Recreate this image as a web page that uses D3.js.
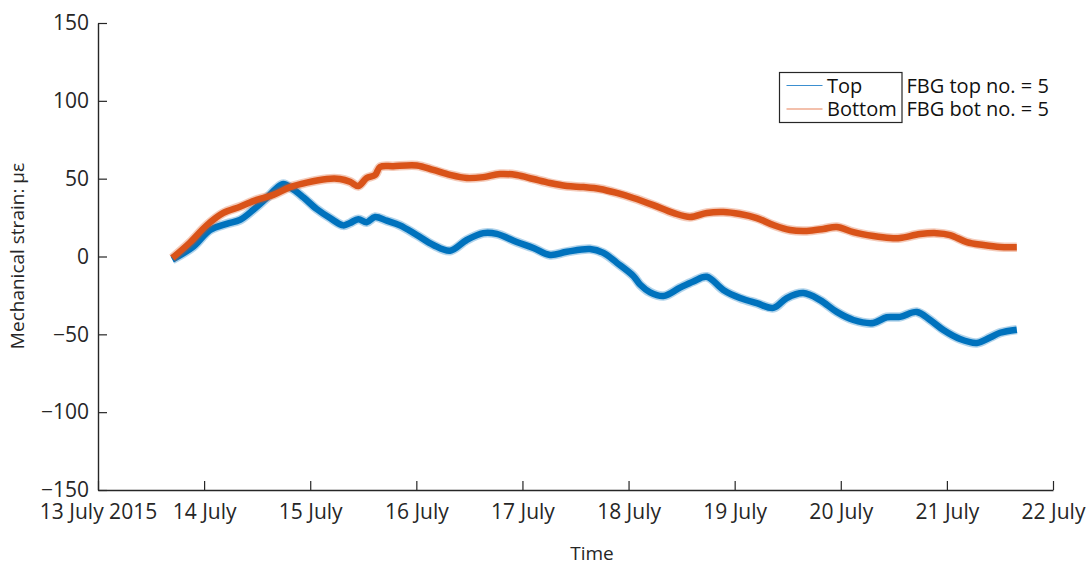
<!DOCTYPE html>
<html>
<head>
<meta charset="utf-8">
<script src="https://cdn.jsdelivr.net/npm/d3@7"></script>
<style>
  html, body { margin: 0; padding: 0; background: #fff; }
  svg { display: block; font-family: "Open Sans", "Noto Sans", sans-serif; }
</style>
</head>
<body>
<svg id="chart" width="1088" height="565"></svg>
<script>
// ---- data (time in days since 13 July 2015 00:00) ----
const topDay = [0.700,0.898,1.056,1.213,1.338,1.464,1.590,1.684,1.747,1.841,1.935,2.061,2.187,2.312,2.375,2.453,2.532,2.611,2.721,2.846,3.004,3.160,3.318,3.475,3.631,3.758,3.946,4.103,4.260,4.418,4.637,4.763,4.889,5.045,5.108,5.203,5.328,5.485,5.611,5.737,5.893,6.051,6.208,6.365,6.491,6.647,6.805,6.962,7.119,7.307,7.433,7.559,7.716,7.842,7.967,8.124,8.282,8.407,8.501,8.659];
const topStrain = [-2,6.3,17,21,23.5,30,37.6,44,46.6,43,38,30.5,24.7,20,21.5,24,22,25.4,23,20,13.8,7.4,3.7,10.6,15,14.5,9.3,5.5,1,3,4.8,2.3,-4,-12.5,-18,-23,-25.4,-20,-16,-13,-21.5,-26.7,-30,-33,-26.7,-23.5,-28,-35.6,-40.8,-42.7,-39,-38.8,-35.6,-40.8,-47.2,-53,-55.5,-52,-49,-47];
const botDay = [0.700,0.867,1.024,1.181,1.338,1.496,1.652,1.810,1.967,2.156,2.281,2.375,2.453,2.532,2.611,2.658,2.783,3.004,3.160,3.318,3.475,3.631,3.789,3.946,4.103,4.260,4.418,4.574,4.731,4.889,5.045,5.234,5.422,5.579,5.737,5.893,6.051,6.208,6.365,6.522,6.680,6.836,6.962,7.119,7.307,7.465,7.559,7.747,7.905,8.030,8.187,8.344,8.501,8.659];
const botStrain = [-1,9,20,28,32,36.4,39.6,44.6,47.5,49.8,49.8,48,45.3,50.4,52.4,57.5,58,58.5,55.6,52.4,50.4,51,53,52.4,49.8,47.2,45.3,44.6,43.4,40.8,37.6,33,28,25.4,28,28.6,27.3,24.7,20.2,17,16.4,17.7,19,15.7,13.2,11.9,11.9,14.4,15,13.8,9.3,7.4,6.1,6];
const seriesNames = ["Top", "Bottom"];
const noteLines = ["FBG top no. = 5", "FBG bot no. = 5"];
const yTicks = [-150,-100,-50,0,50,100,150];
const xTickDays = [13,14,15,16,17,18,19,20,21,22];
const xTickLabels = ["13 July 2015","14 July","15 July","16 July","17 July","18 July","19 July","20 July","21 July","22 July"];
const yLabel = "Mechanical strain: με";
const xLabel = "Time";

// ---- layout ----
const colors = ["#0072BD", "#D95319"];
const legendColors = ["#3b8fd0", "#e8825a"];
const axisColor = "#262626";
const t0 = new Date(2015, 6, 13);
const toDate = d => new Date(t0.getTime() + d * 86400000);

const svg = d3.select("#chart");
const x = d3.scaleTime().domain([new Date(2015,6,13), new Date(2015,6,22)]).range([98, 1053]);
const y = d3.scaleLinear().domain([-150, 150]).range([490, 23]);

const line = d3.line().x(d => x(d[0])).y(d => y(d[1])).curve(d3.curveCatmullRom);
const series = [
  topDay.map((d, i) => [toDate(d), topStrain[i]]),
  botDay.map((d, i) => [toDate(d), botStrain[i]])
];

series.forEach((s, i) => {
  svg.append("path").datum(s).attr("d", line)
    .attr("fill", "none").attr("stroke", colors[i]).attr("stroke-opacity", 0.3)
    .attr("stroke-width", 9.5).attr("stroke-linejoin", "round").attr("stroke-linecap", "butt");
  svg.append("path").datum(s).attr("d", line)
    .attr("fill", "none").attr("stroke", colors[i])
    .attr("stroke-width", 6.5).attr("stroke-linejoin", "round").attr("stroke-linecap", "butt");
});

// axes (ticks pointing inward)
const fontFam = "'Open Sans', 'Noto Sans', sans-serif";
const xAxis = d3.axisBottom(x)
  .tickValues(xTickDays.map(d => new Date(2015, 6, d)))
  .tickFormat((d, i) => xTickLabels[i])
  .tickSizeInner(-9).tickSizeOuter(0).tickPadding(14);
const gx = svg.append("g").attr("transform", "translate(0,490)").call(xAxis);
gx.select(".domain").attr("stroke", axisColor).attr("stroke-width", 1.4);
gx.selectAll(".tick line").attr("stroke", axisColor).attr("stroke-width", 1.2);
gx.selectAll(".tick text").attr("fill", axisColor).attr("font-size", 21)
  .attr("font-family", fontFam);

const yAxis = d3.axisLeft(y).tickValues(yTicks)
  .tickSizeInner(-9).tickSizeOuter(0).tickPadding(9);
const gy = svg.append("g").attr("transform", "translate(98,0)").call(yAxis);
gy.select(".domain").attr("stroke", axisColor).attr("stroke-width", 1.4);
gy.selectAll(".tick line").attr("stroke", axisColor).attr("stroke-width", 1.2);
gy.selectAll(".tick text").attr("fill", axisColor).attr("font-size", 21)
  .attr("font-family", fontFam);

// axis labels
svg.append("text").attr("x", 592).attr("y", 560).attr("text-anchor", "middle")
  .attr("font-size", 19).attr("fill", axisColor).text(xLabel);
svg.append("text").attr("transform", "translate(24,256) rotate(-90)")
  .attr("text-anchor", "middle").attr("font-size", 19).attr("fill", axisColor).text(yLabel);

// legend
const lg = svg.append("g");
lg.append("rect").attr("x", 779.5).attr("y", 72.5).attr("width", 122.5).attr("height", 50)
  .attr("fill", "#fff").attr("stroke", axisColor).attr("stroke-width", 1.2);
const rowY = [85.5, 109];
seriesNames.forEach((n, i) => {
  lg.append("line").attr("x1", 786.5).attr("x2", 822.5).attr("y1", rowY[i]).attr("y2", rowY[i])
    .attr("stroke", legendColors[i]).attr("stroke-width", 1.2);
});
const nameText = lg.append("text").attr("font-size", 20).attr("fill", "#111");
seriesNames.forEach((n, i) => {
  nameText.append("tspan").attr("x", 827).attr("y", rowY[i] + 7).text(n);
});
const noteText = lg.append("text").attr("font-size", 20).attr("fill", "#111");
noteLines.forEach((n, i) => {
  noteText.append("tspan").attr("x", 906.5).attr("y", rowY[i] + 7).text(n);
});
</script>
</body>
</html>
